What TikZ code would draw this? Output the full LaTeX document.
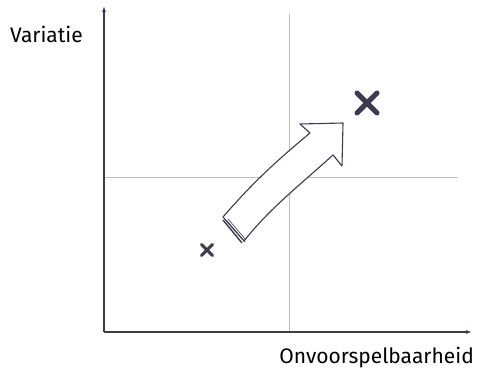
\documentclass[tikz,border=0pt]{standalone}
\usepackage{fontspec}
\setmainfont{Fira Sans}
\usetikzlibrary{arrows.meta,calc}
\definecolor{inkdark}{HTML}{3C3C4E}
\definecolor{gridgray}{HTML}{BDBDBD}
\begin{document}
\begin{tikzpicture}[x=1pt, y=-1pt, every node/.style={font=\fontsize{21}{25}\selectfont, text=black, inner sep=0pt},
    axisline/.style={draw=inkdark, line width=1.1pt, -{Latex[length=6pt, width=4pt]}},
    gridline/.style={draw=gridgray, line width=0.8pt},
    cross/.style={draw=inkdark, line cap=round}]
    % Frame of the picture
    \useasboundingbox (0,0) rectangle (479,374);

    % Axis points
    \coordinate (origin) at (104,332);
    \coordinate (ytop) at (104,6);
    \coordinate (xend) at (472,332);

    % Quadrant lines
    \coordinate (vtop) at (289,14);
    \coordinate (vbot) at (289,332);
    \coordinate (hleft) at (104,177);
    \coordinate (hright) at (458,177);
    \draw[gridline] (vtop) -- (vbot);
    \draw[gridline] (hleft) -- (hright);

    % Axes
    \draw[axisline] (origin) -- (ytop);
    \draw[axisline] (origin) -- (xend);

    % Labels
    \node[anchor=west] (ylabel) at (10,34) {Variatie};
    \node[anchor=east] (xlabel) at (474,358) {Onvoorspelbaarheid};

    % Small cross (start)
    \coordinate (small) at (207,250);
    \draw[cross, line width=3pt] ($(small)+(-5.5,-5.5)$) -- ($(small)+(5.5,5.5)$);
    \draw[cross, line width=3pt] ($(small)+(-5.5,5.5)$) -- ($(small)+(5.5,-5.5)$);

    % Large cross (goal)
    \coordinate (large) at (367,103);
    \draw[cross, line width=5pt] ($(large)+(-10,-10)$) -- ($(large)+(10,10)$);
    \draw[cross, line width=5pt] ($(large)+(-10,10)$) -- ($(large)+(10,-10)$);

    % Sketchy arrow
    \coordinate (tailA) at (223,217);
    \coordinate (tailB) at (244,241);
    \coordinate (notchA) at (310,133);
    \coordinate (barbA) at (300,124);
    \coordinate (tip) at (343,123);
    \coordinate (barbB) at (342,166);
    \coordinate (notchB) at (333,155);
    \draw[draw=inkdark, fill=white, line width=1.1pt, line join=round]
        (tailA) .. controls (255,180) and (280,158) .. (notchA)
        -- (barbA) -- (tip) -- (barbB) -- (notchB)
        .. controls (300,185) and (270,208) .. (tailB) -- cycle;
    % Tail hatching
    \draw[inkdark, line width=1.4pt] (223,220) -- (242,243);
    \draw[inkdark, line width=0.8pt] (226,220) -- (245,242);
    \draw[inkdark, line width=0.6pt] (228,219) -- (246,240);
\end{tikzpicture}
\end{document}
